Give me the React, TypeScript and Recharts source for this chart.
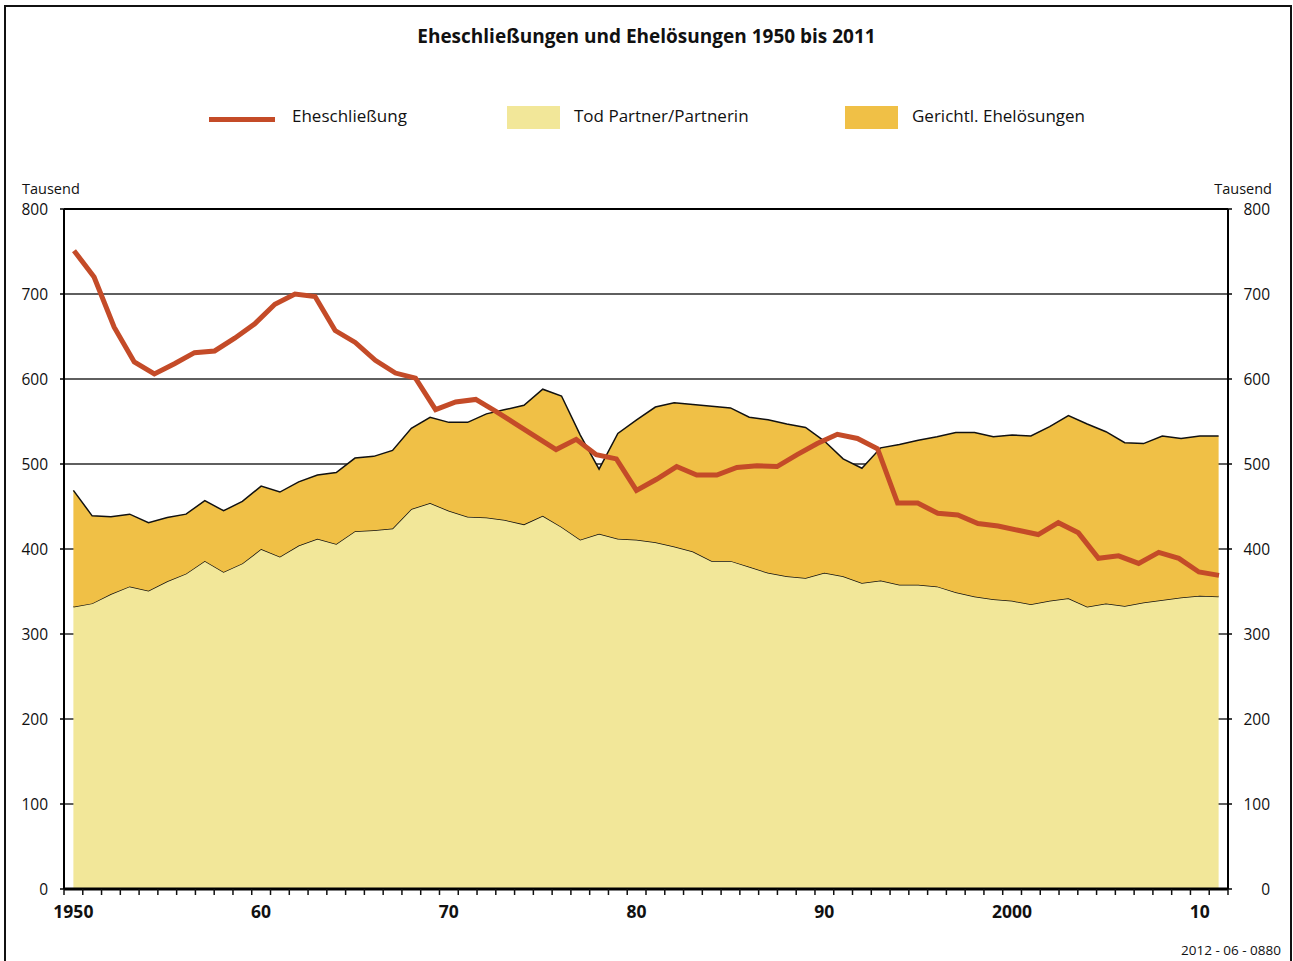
import React from 'react';
import { ComposedChart, Area, Line, XAxis, YAxis, CartesianGrid, ReferenceLine } from 'recharts';

// Categories (years) for the stacked areas
const years = [
  1950, 1951, 1952, 1953, 1954, 1955, 1956, 1957, 1958, 1959,
  1960, 1961, 1962, 1963, 1964, 1965, 1966, 1967, 1968, 1969,
  1970, 1971, 1972, 1973, 1974, 1975, 1976, 1977, 1978, 1979,
  1980, 1981, 1982, 1983, 1984, 1985, 1986, 1987, 1988, 1989,
  1990, 1991, 1992, 1993, 1994, 1995, 1996, 1997, 1998, 1999,
  2000, 2001, 2002, 2003, 2004, 2005, 2006, 2007, 2008, 2009,
  2010, 2011,
];

// Ehelösungen durch Tod des Partners/der Partnerin (Tausend)
const todPartner = [
  332, 336, 347, 356, 351, 362, 371, 386, 373, 383,
  400, 391, 404, 412, 406, 421, 422, 424, 447, 454,
  445, 438, 437, 434, 429, 439, 426, 411, 418, 412,
  411, 408, 403, 397, 386, 386, 379, 372, 368, 366,
  372, 368, 360, 363, 358, 358, 356, 349, 344, 341,
  339, 335, 339, 342, 332, 336, 333, 337, 340, 343,
  345, 344,
];

// Gerichtliche Ehelösungen (Tausend)
const gerichtlich = [
  137, 103, 91, 85, 80, 75, 70, 71, 72, 73,
  74, 76, 75, 75, 84, 86, 87, 92, 95, 101,
  104, 111, 122, 130, 140, 149, 154, 123, 76, 124,
  141, 159, 169, 173, 182, 180, 176, 180, 179, 177,
  155, 138, 135, 156, 165, 170, 176, 188, 193, 191,
  195, 198, 205, 215, 215, 202, 192, 187, 193, 187,
  188, 189,
];

// Eheschließungen (Tausend) – in the original the line's points are spaced
// evenly across the period on their own scale
const eheschliessung = [
  751, 720, 661, 620, 606, 618, 631, 633, 648, 665,
  688, 700, 697, 657, 643, 622, 607, 601, 564, 573,
  576, 562, 547, 532, 517, 529, 511, 506, 469, 482,
  497, 487, 487, 496, 498, 497, 511, 524, 535, 530,
  518, 454, 454, 442, 440, 430, 427, 422, 417, 431,
  419, 389, 392, 383, 396, 389, 373, 369,
];

const yTicks = [0, 100, 200, 300, 400, 500, 600, 700, 800];
const decadeYears = [1950, 1960, 1970, 1980, 1990, 2000, 2010];
const decadeLabels = ['1950', '60', '70', '80', '90', '2000', '10'];

const FONT = '"Open Sans", "Noto Sans", sans-serif';
const C_LINE = '#C44B28';
const C_TOD = '#F2E799';
const C_GER = '#F0C046';

const areaData = years.map((year, i) => ({ year, tod: todPartner[i], gericht: gerichtlich[i] }));
const lineData = eheschliessung.map((v, k) => ({ k, v }));
const boundaryTicks = [...years.map((y) => y - 0.5), years[years.length - 1] + 0.5];
const xTicks = [...boundaryTicks, ...decadeYears].sort((a, b) => a - b);

const XTick = (props: any) => {
  const { x, y, payload } = props;
  const idx = decadeYears.indexOf(payload.value);
  if (idx >= 0) {
    return (
      <text x={x} y={y + 29} textAnchor="middle" fontFamily={FONT} fontWeight={700} fontSize={17.5} fill="#111">
        {decadeLabels[idx]}
      </text>
    );
  }
  return <line x1={x} x2={x} y1={y} y2={y + 6} stroke="#111" strokeWidth={1.5} />;
};

const LeftTick = (props: any) => {
  const { x, y, payload } = props;
  return (
    <text x={x} y={y} dy="0.355em" textAnchor="end" fontFamily={FONT} fontSize={15.5} fill="#111">
      {payload.value}
    </text>
  );
};

const RightTick = (props: any) => {
  const { x, y, payload } = props;
  return (
    <text x={x + 26} y={y} dy="0.355em" textAnchor="end" fontFamily={FONT} fontSize={15.5} fill="#111">
      {payload.value}
    </text>
  );
};

const abs = (extra: React.CSSProperties): React.CSSProperties => ({
  position: 'absolute',
  fontFamily: FONT,
  color: '#111',
  whiteSpace: 'nowrap',
  ...extra,
});

export default function App() {
  return (
    <div style={{ position: 'absolute', left: 0, top: 0, width: 1293, height: 961, overflow: 'hidden', background: '#fff' }}>
      <div
        style={{
          position: 'absolute',
          left: 4,
          top: 5,
          width: 1284,
          height: 970,
          borderTop: '2px solid #111',
          borderLeft: '2px solid #111',
          borderRight: '2px solid #111',
        }}
      />
      <div style={abs({ left: 0, width: 1293, top: 23, textAlign: 'center', fontSize: 19, fontWeight: 700 })}>
        Eheschließungen und Ehelösungen 1950 bis 2011
      </div>

      {/* Legend */}
      <div style={abs({ left: 209, top: 116.5, width: 66, height: 5, background: C_LINE })} />
      <div style={abs({ left: 292, top: 104, fontSize: 17 })}>Eheschließung</div>
      <div style={abs({ left: 507, top: 106, width: 53, height: 23, background: C_TOD })} />
      <div style={abs({ left: 574, top: 104, fontSize: 17 })}>Tod Partner/Partnerin</div>
      <div style={abs({ left: 845, top: 106, width: 53, height: 23, background: C_GER })} />
      <div style={abs({ left: 912, top: 104, fontSize: 17 })}>Gerichtl. Ehelösungen</div>

      <div style={abs({ left: 22, top: 179, fontSize: 14.5 })}>Tausend</div>
      <div style={abs({ right: 21, top: 179, fontSize: 14.5 })}>Tausend</div>
      <div style={abs({ right: 12, top: 941, fontSize: 13.5 })}>2012 - 06 - 0880</div>

      <div style={{ position: 'absolute', left: 0, top: 0 }}>
        <ComposedChart
          width={1293}
          height={961}
          data={areaData}
          margin={{ top: 209, right: 25, bottom: 42, left: 24 }}
        >
          <CartesianGrid vertical={false} stroke="#2a2a2a" strokeWidth={1.6} />
          <Area
            type="linear"
            dataKey="tod"
            stackId="a"
            stroke="#111"
            strokeWidth={1.5}
            fill={C_TOD}
            fillOpacity={1}
            isAnimationActive={false}
          />
          <Area
            type="linear"
            dataKey="gericht"
            stackId="a"
            stroke="#111"
            strokeWidth={1.5}
            fill={C_GER}
            fillOpacity={1}
            isAnimationActive={false}
          />
          <Line
            xAxisId="line"
            data={lineData}
            type="linear"
            dataKey="v"
            stroke={C_LINE}
            strokeWidth={5}
            dot={false}
            isAnimationActive={false}
          />
          <XAxis
            dataKey="year"
            type="number"
            domain={[1949.5, 2011.5]}
            ticks={xTicks}
            interval={0}
            tick={<XTick />}
            tickLine={false}
            tickSize={0}
            tickMargin={0}
            height={30}
            axisLine={{ stroke: '#000', strokeWidth: 3 }}
          />
          <XAxis
            xAxisId="line"
            dataKey="k"
            type="number"
            domain={[0, eheschliessung.length - 1]}
            padding={{ left: 10, right: 9 }}
            hide
          />
          <YAxis
            type="number"
            domain={[0, 800]}
            ticks={yTicks}
            interval={0}
            width={40}
            tickSize={4}
            tickMargin={12}
            tick={<LeftTick />}
            tickLine={{ stroke: '#000', strokeWidth: 1.5 }}
            axisLine={{ stroke: '#000', strokeWidth: 2 }}
            allowDataOverflow
          />
          <YAxis
            yAxisId="r"
            orientation="right"
            type="number"
            domain={[0, 800]}
            ticks={yTicks}
            interval={0}
            width={40}
            tickSize={4}
            tickMargin={12}
            tick={<RightTick />}
            tickLine={{ stroke: '#000', strokeWidth: 1.5 }}
            axisLine={{ stroke: '#000', strokeWidth: 2 }}
            allowDataOverflow
          />
          <ReferenceLine y={800} stroke="#000" strokeWidth={2} />
        </ComposedChart>
      </div>
    </div>
  );
}
